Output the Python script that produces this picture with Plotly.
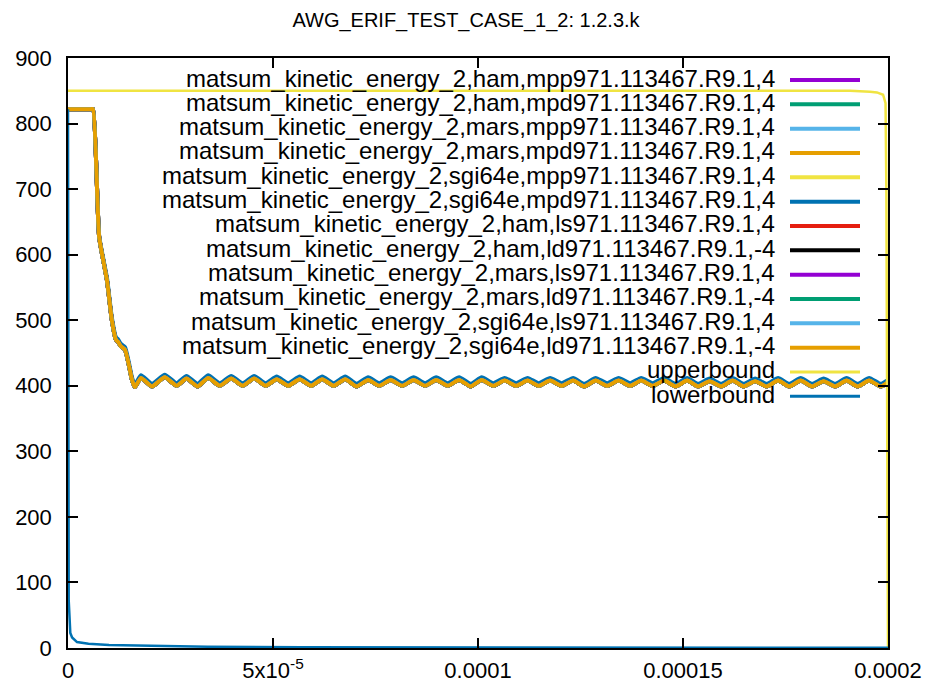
import plotly.graph_objects as go

# ---------------- data (x in microseconds, converted to seconds below) ----------------
series_names = [
    "matsum_kinetic_energy_2,ham,mpp971.113467.R9.1,4",
    "matsum_kinetic_energy_2,ham,mpd971.113467.R9.1,4",
    "matsum_kinetic_energy_2,mars,mpp971.113467.R9.1,4",
    "matsum_kinetic_energy_2,mars,mpd971.113467.R9.1,4",
    "matsum_kinetic_energy_2,sgi64e,mpp971.113467.R9.1,4",
    "matsum_kinetic_energy_2,sgi64e,mpd971.113467.R9.1,4",
    "matsum_kinetic_energy_2,ham,ls971.113467.R9.1,4",
    "matsum_kinetic_energy_2,ham,ld971.113467.R9.1,-4",
    "matsum_kinetic_energy_2,mars,ls971.113467.R9.1,4",
    "matsum_kinetic_energy_2,mars,ld971.113467.R9.1,-4",
    "matsum_kinetic_energy_2,sgi64e,ls971.113467.R9.1,4",
    "matsum_kinetic_energy_2,sgi64e,ld971.113467.R9.1,-4",
    "upperbound",
    "lowerbound",
]
series_colors = ["#9400d3", "#009e73", "#56b4e9", "#e69f00", "#f0e442", "#0072b2",
                 "#e51e10", "#000000", "#9400d3", "#009e73", "#56b4e9", "#e69f00",
                 "#f0e442", "#0072b2"]

time_us = [0, 5.6, 6.1, 7.6, 9.5, 10.7, 11.7, 12.2, 12.9, 13.9, 14.9, 15.6, 16.3,
           17.8, 20.5, 23.6, 26.5, 28.9, 31.6, 34.2, 37.0, 39.8, 42.6,
           45.4, 48.2, 50.9, 53.7, 56.5, 59.3, 62.0, 64.8, 67.6, 70.4,
           73.2, 75.9, 78.7, 81.5, 84.3, 87.1, 89.8, 92.6, 95.4, 98.2,
           100.9, 103.7, 106.5, 109.3, 112.1, 114.8, 117.6, 120.4, 123.2, 125.9,
           128.7, 131.5, 134.3, 137.1, 139.8, 142.6, 145.4, 148.2, 151.0, 153.7,
           156.5, 159.3, 162.1, 164.8, 167.6, 170.4, 173.2, 175.9, 178.7, 181.5,
           184.3, 187.1, 189.9, 192.6, 195.4, 198.2, 200.0]

energy_main = [822, 822, 822, 627, 561, 500, 470, 467, 460, 455, 430, 409, 398,
               412, 399, 413, 400, 411, 399, 412, 400, 411, 400,
               411, 400, 410, 400, 410, 400, 410, 400, 410, 399,
               409, 400, 409, 400, 409, 400, 409, 400, 409, 399,
               409, 400, 408, 400, 408, 400, 408, 400, 408, 399,
               408, 400, 408, 400, 408, 400, 408, 399, 408, 399,
               407, 399, 408, 399, 407, 399, 408, 399, 408, 399,
               407, 399, 408, 399, 408, 399, 405]

energy_sgi_mpd = [822, 822, 822, 629, 565, 504, 474, 471, 464, 459, 434, 413, 402,
                  416, 403, 417, 404, 415, 403, 416, 404, 415, 404,
                  415, 404, 414, 404, 414, 404, 414, 404, 414, 403,
                  413, 404, 413, 404, 413, 404, 413, 404, 413, 403,
                  413, 404, 412, 404, 412, 404, 412, 404, 412, 403,
                  412, 404, 412, 404, 412, 404, 412, 403, 412, 403,
                  411, 403, 412, 403, 411, 403, 412, 403, 412, 403,
                  411, 403, 412, 403, 412, 403, 409]

upper_time_us = [0, 190.7, 195.6, 197.3, 198.8, 199.4, 199.6, 199.8, 200.0]
upper_energy = [850, 850, 848.5, 847.5, 844, 831, 700, 300, 0]

lower_time_us = [0, 0.05, 0.17, 0.56, 1.0, 2.2, 5.0, 10, 22, 34, 57, 105, 200]
lower_energy = [822, 400, 73, 23, 16, 9, 6.5, 4.6, 3, 2, 1.2, 0.6, 0.3]

x_tickvals = [0, 5e-5, 1e-4, 1.5e-4, 2e-4]
x_ticktext = ["0", "5x10<sup>-5</sup>", "0.0001", "0.00015", "0.0002"]
y_tickvals = [0, 100, 200, 300, 400, 500, 600, 700, 800, 900]

# ---------------- figure ----------------
def sec(us_list):
    return [u * 1e-6 for u in us_list]

FONT = "Liberation Sans, Arial, sans-serif"
fig = go.Figure()

for i, name in enumerate(series_names[:12]):
    yvals = energy_sgi_mpd if i == 5 else energy_main
    fig.add_trace(go.Scatter(x=sec(time_us), y=yvals, mode="lines", name=name,
                             line=dict(color=series_colors[i], width=4,
                                       shape="spline", smoothing=0.5),
                             showlegend=False))

fig.add_trace(go.Scatter(x=sec(upper_time_us), y=upper_energy, mode="lines",
                         name=series_names[12], showlegend=False,
                         line=dict(color=series_colors[12], width=2.5)))
fig.add_trace(go.Scatter(x=sec(lower_time_us), y=lower_energy, mode="lines",
                         name=series_names[13], showlegend=False,
                         line=dict(color=series_colors[13], width=2.5)))

# page body has an 8px margin: the figure is drawn at (8, 8)
OFF = 8
W, H = 932 - OFF, 685 - OFF
PX0, PX1, PY0, PY1 = 68, 888, 58, 648      # plot area in screen pixels
L, R, T, B = PX0 - OFF, W + OFF - PX1, PY0 - OFF, H + OFF - PY1
pw, ph = PX1 - PX0, PY1 - PY0

# gnuplot-style key: right-aligned text with line sample on its right
annotations = []
shapes = []
for k, name in enumerate(series_names):
    py = 80 + 24.33 * k
    yp = (PY1 - py) / ph
    annotations.append(dict(x=(777 - PX0) / pw, y=yp + 2 / ph, xref="paper", yref="paper",
                            text=name, showarrow=False, xanchor="right",
                            yanchor="middle",
                            font=dict(family=FONT, size=24, color="black")))
    shapes.append(dict(type="line", xref="paper", yref="paper",
                       x0=(790 - PX0) / pw, x1=(860 - PX0) / pw, y0=yp, y1=yp,
                       line=dict(color=series_colors[k],
                                 width=4 if k < 12 else 3)))

axis_common = dict(showline=True, linecolor="black", linewidth=1.5,
                   mirror="allticks", ticks="inside", ticklen=10,
                   tickwidth=1.5, tickcolor="black", showgrid=False,
                   zeroline=False, automargin=False,
                   tickfont=dict(family=FONT, size=22, color="black"))

fig.update_layout(
    width=W, height=H,
    margin=dict(l=L, r=R, t=T, b=B, pad=0, autoexpand=False),
    paper_bgcolor="white", plot_bgcolor="white",
    title=dict(text="AWG_ERIF_TEST_CASE_1_2: 1.2.3.k", x=(466 - OFF) / W,
               xanchor="center", y=1 - (20 - OFF) / H, yanchor="middle",
               font=dict(family=FONT, size=20, color="black")),
    xaxis=dict(range=[0, 2e-4], tickvals=x_tickvals, ticktext=x_ticktext,
               ticklabelstandoff=2, **axis_common),
    yaxis=dict(range=[0, 900], tickvals=y_tickvals, ticklabelstandoff=10,
               **axis_common),
    annotations=annotations,
    shapes=shapes,
    showlegend=False,
)

fig.write_html("out.html")
